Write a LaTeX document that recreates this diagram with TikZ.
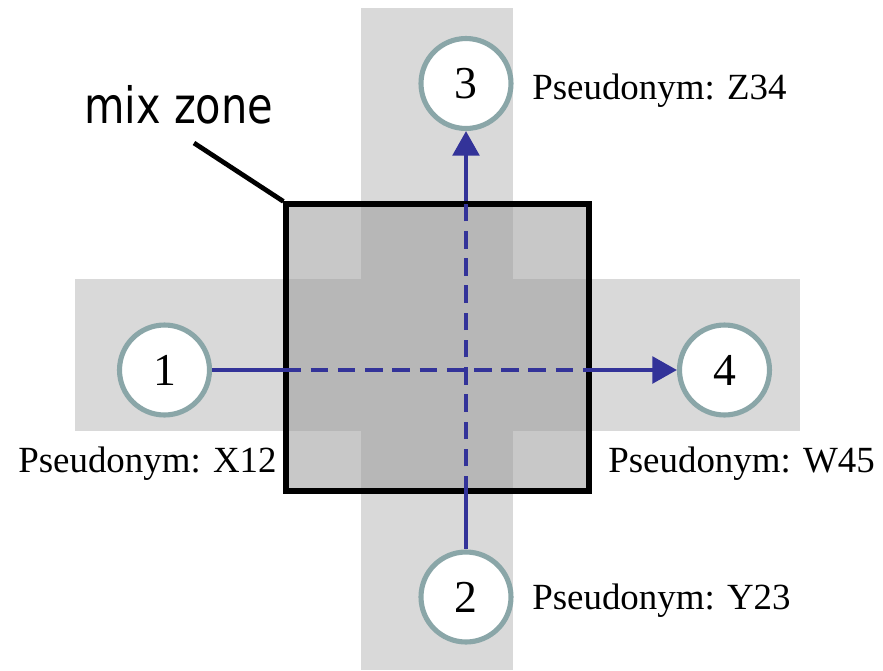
\documentclass[tikz,border=0pt]{standalone}
\usepackage{fontspec}
\setmainfont{Liberation Serif}
\newfontfamily\zonefont[FakeStretch=0.83]{DejaVu Sans}
\usetikzlibrary{arrows.meta}
\definecolor{roadgray}{RGB}{217,217,217}
\definecolor{ringcol}{RGB}{138,166,168}
\definecolor{pathblue}{RGB}{51,51,153}

\begin{document}
\begin{tikzpicture}[
                    x=0.02cm, y=-0.02cm,
                    road/.style={fill=roadgray, draw=none},
                    zone/.style={draw=black, line width=3pt,
                        fill={rgb,255:red,160;green,160;blue,160}, fill opacity=0.58,
                        minimum width=6.06cm, minimum height=5.74cm, inner sep=0pt},
                    user/.style={circle, draw=ringcol, line width=2.9pt, fill=white,
                        minimum size=1.8cm, inner sep=0pt,
                        font=\fontsize{26}{30}\selectfont},
                    pseudo/.style={anchor=base west, inner sep=0pt,
                        font=\fontsize{21}{25}\selectfont},
                    route/.style={draw=pathblue, line width=2.6pt},
                    hidden/.style={route, dash pattern=on 10pt off 5.5pt},
                    >={Triangle[length=14pt,width=15pt]},
                ]
                \useasboundingbox (0,0) rectangle (883,670);

                \fill[road] (361,8) rectangle (513,670);
                \fill[road] (75,279) rectangle (800,431);

                \node[zone] (zone) at (437.5,347.5) {};

                \node[user] (u1) at (164.5,370) {1};
                \node[user] (u2) at (466,597) {2};
                \node[user] (u3) at (466,83.5) {3};
                \node[user] (u4) at (724.5,370) {4};

                \draw[route] (u1) -- (zone.west |- u1);
                \draw[hidden] (zone.west |- u1) -- (zone.east |- u1);
                \draw[route,->] (zone.east |- u1) -- (u4);

                \draw[route] (u2) -- (u2 |- zone.south);
                \draw[hidden] (u2 |- zone.south) -- (u2 |- zone.north);
                \draw[route,->] (u2 |- zone.north) -- (u3);

                \node[pseudo] (p1) at (18,472) {Pseudonym: X12};
                \node[pseudo] (p2) at (532,609) {Pseudonym: Y23};
                \node[pseudo] (p3) at (532,99) {Pseudonym: Z34};
                \node[pseudo] (p4) at (608,472) {Pseudonym: W45};

                \node[anchor=base west, inner sep=0pt, font=\zonefont\fontsize{28.5}{33}\selectfont]
                    (mixlabel) at (84,123) {mix zone};
                \coordinate (lead) at (194,143);
                \draw[line width=2.7pt] (lead) -- (zone.north west);
            \end{tikzpicture}
\end{document}
